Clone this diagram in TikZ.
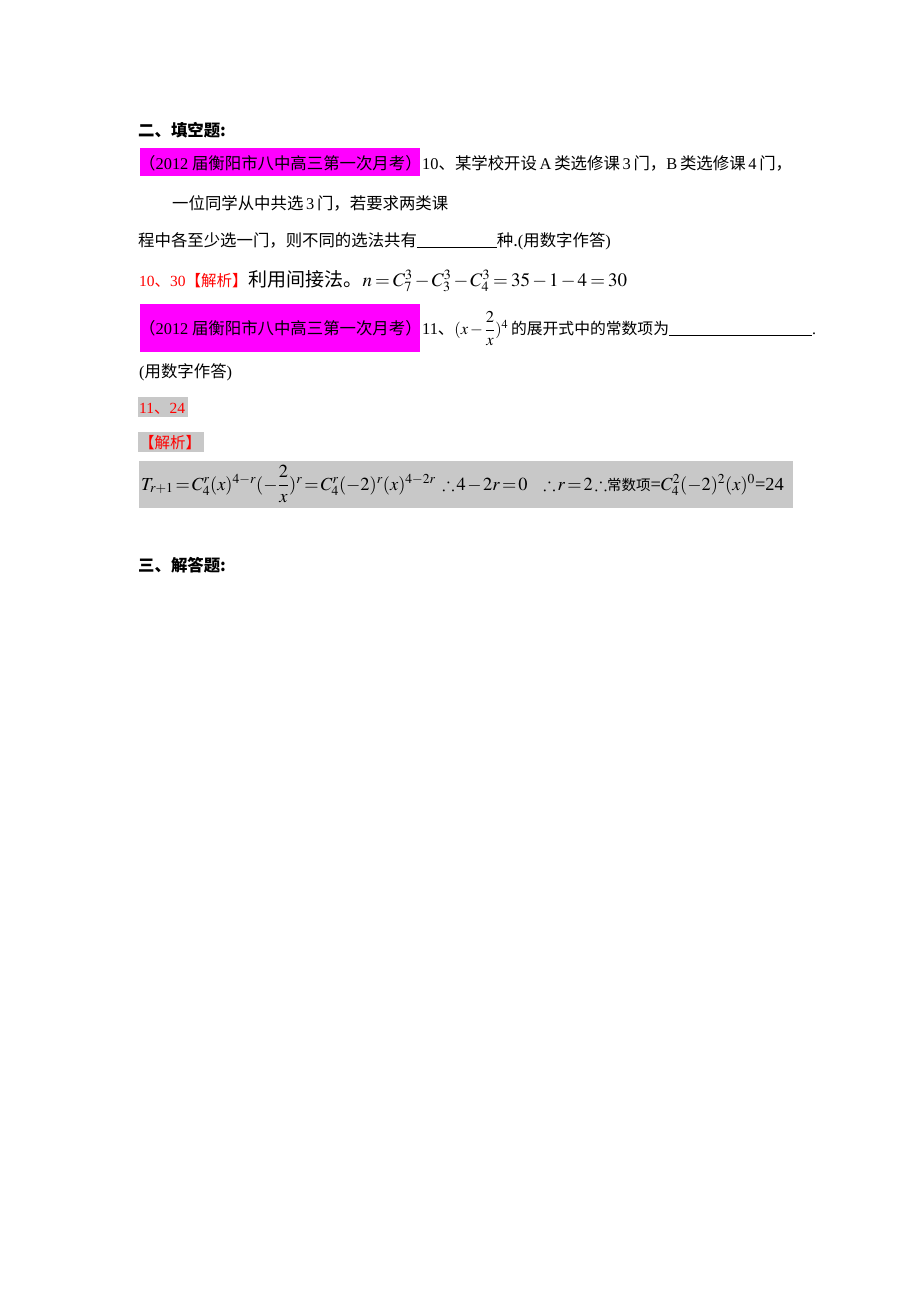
\documentclass[tikz,border=0pt]{standalone}
\usepackage{amsmath}
\usepackage{amssymb}
\usepackage{mathptmx}
\usepackage{fontspec}
\setmainfont{Liberation Serif}
\newfontfamily\cjk{Noto Sans CJK SC}
\definecolor{hlmag}{RGB}{255,0,255}
\definecolor{hlgray}{RGB}{200,200,200}
\definecolor{ansred}{RGB}{255,0,0}
\newcommand{\tm}[1]{{\rmfamily #1}}
\newcommand{\ul}[1]{\rule[-2pt]{#1}{0.8pt}}
\newcommand{\tight}{\thickmuskip=3mu\medmuskip=2mu\thinmuskip=2mu}
\newcommand{\tighter}{\thickmuskip=2mu\medmuskip=1.5mu\thinmuskip=1.5mu}
\begin{document}
\begin{tikzpicture}[x=1pt,y=-1pt,
  txt/.style={inner sep=0pt, anchor=base west, font=\cjk\fontsize{16.4}{19}\selectfont},
  bigtxt/.style={inner sep=0pt, anchor=base west, font=\cjk\fontsize{19}{22}\selectfont},
  redtxt/.style={txt, text=ansred, font=\cjk\fontsize{15.5}{19}\selectfont},
  mth/.style={inner sep=0pt, anchor=base west, font=\fontsize{19}{22}\selectfont\tight},
  headtxt/.style={txt, font=\cjk\bfseries\fontsize{16.4}{19}\selectfont}]
\useasboundingbox[fill=white] (0,0) rectangle (920,1302);

% heading
\node[headtxt] (h2) at (138,136) {二、填空题:};

% question 10
\fill[hlmag] (140,148) rectangle (420,176);
\node[txt] (src1) at (139,169) {（\tm{2012} 届衡阳市八中高三第一次月考）};
\node[txt] (q10a) at (422,169) {\tm{10}、某学校开设\tm{\,A\,}类选修课\tm{\,3\,}门，\tm{B\,}类选修课\tm{\,4\,}门，};
\node[txt] (q10b) at (172,209) {一位同学从中共选\tm{\,3\,}门，若要求两类课};
\node[txt] (q10c) at (138,246) {程中各至少选一门，则不同的选法共有\ul{80pt}种.\tm{(}用数字作答\tm{)}};

% answer 10
\node[redtxt] (a10) at (139,286) {\tm{10}、\tm{30}【解析】};
\node[bigtxt] (a10t) at (a10.base east) {利用间接法。};
\node[mth] (a10m) at (a10t.base east) {$n=C_7^3-C_3^3-C_4^3=35-1-4=30$};

% question 11
\fill[hlmag] (140,304) rectangle (420,352);
\node[txt] (src2) at (139,334) {（\tm{2012} 届衡阳市八中高三第一次月考）};
\node[txt] (q11a) at (422,334) {\tm{11}、\fontsize{16.5}{19}\selectfont\tight$(x-\dfrac{2}{x})^{4}$\,\fontsize{15.8}{19}\selectfont 的展开式中的常数项为\ul{143pt}\tm{.}};
\node[txt] (q11b) at (139,377) {\tm{(}用数字作答\tm{)}};

% answer 11
\fill[hlgray] (138,397) rectangle (188,417);
\node[redtxt] (a11) at (139,413) {\tm{11}、\tm{24}};
\fill[hlgray] (138,432) rectangle (204,452);
\node[redtxt] (a11h) at (139,448) {【解析】};
\fill[hlgray] (139,461) rectangle (793,508);
\node[mth, font=\fontsize{18.4}{24}\selectfont\tighter] (a11m) at (141,490) {$T_{r+1}=C_4^r(x)^{4-r}(-\dfrac{2}{x})^{r}=C_4^r(-2)^r(x)^{4-2r}\ \therefore 4-2r=0\ \ \ \therefore r=2\therefore$\fontsize{14.5}{18}\selectfont\cjk 常数项\fontsize{18.4}{24}\selectfont\rmfamily=$C_4^2(-2)^2(x)^0$=24};

% section 3
\node[headtxt] (h3) at (138,571) {三、解答题:};
\end{tikzpicture}
\end{document}
